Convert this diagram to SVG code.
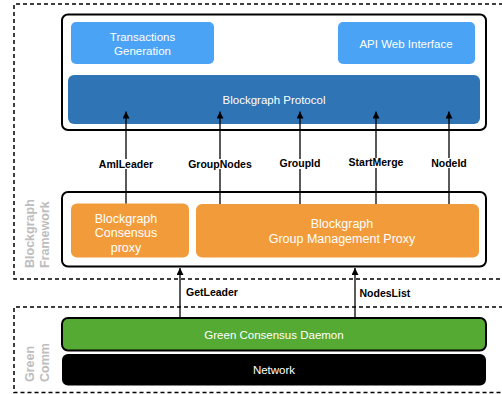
<svg xmlns="http://www.w3.org/2000/svg" width="502" height="394" viewBox="0 0 502 394">
<defs>
<marker id="ah" viewBox="0 0 10 10" refX="10" refY="5" markerWidth="7" markerHeight="7" markerUnits="userSpaceOnUse" orient="auto">
<path d="M0,0 L10,5 L0,10 z" fill="#000"/>
</marker>
<style>
.dash{fill:none;stroke:#000;stroke-width:1.5;stroke-dasharray:4 3}
.frame{fill:#fff;stroke:#000;stroke-width:2}
.lb{fill:#4AA3F5}
.db{fill:#2F74B5}
.or{fill:#F29B3A}
.wt{fill:#fff;font-family:"Liberation Sans",Arial,sans-serif;font-size:11.5px;text-anchor:middle}
.lab{fill:#000;font-family:"Liberation Sans",Arial,sans-serif;font-size:10.5px;font-weight:bold;text-anchor:middle}
.side{fill:#BDBDBD;font-family:"Liberation Sans",Arial,sans-serif;font-size:12.5px;font-weight:bold}
.conn line{stroke:#000;stroke-width:1.3}
</style>
</defs>
<rect width="502" height="394" fill="#fff"/>

<g id="blockgraph-framework">
<path class="dash" d="M503,4 H14 V279 H503"/>
<text class="side" transform="translate(34,268) rotate(-90)">Blockgraph</text>
<text class="side" transform="translate(49,268) rotate(-90)">Framework</text>
</g>
<g id="green-comm">
<path class="dash" d="M503,307 H14 V392.5 H503"/>
<text class="side" transform="translate(34,382) rotate(-90)">Green</text>
<text class="side" transform="translate(49,382) rotate(-90)">Comm</text>
</g>

<g id="top-layer">
<rect class="frame" x="62" y="14.5" width="424" height="115.5" rx="6"/>
</g>
<g id="transactions-generation">
<rect class="lb" x="71" y="22" width="143" height="42" rx="5"/>
<text class="wt" x="142.5" y="41">Transactions</text>
<text class="wt" x="142.5" y="55">Generation</text>
</g>
<g id="api-web-interface">
<rect class="lb" x="338" y="22" width="137" height="42" rx="5"/>
<text class="wt" x="406" y="47.5">API Web Interface</text>
</g>
<g id="blockgraph-protocol">
<rect class="db" x="68" y="75" width="412" height="49" rx="6"/>
<text class="wt" x="274" y="103.5">Blockgraph Protocol</text>
</g>

<g id="middle-layer">
<rect class="frame" x="62" y="192" width="424" height="74.5" rx="6"/>
</g>
<g id="consensus-proxy">
<rect class="or" x="71" y="203.5" width="118" height="54" rx="6"/>
<text class="wt" x="126" y="222.5" style="font-size:12.5px">Blockgraph</text>
<text class="wt" x="126" y="237" style="font-size:12.5px">Consensus</text>
<text class="wt" x="126" y="251.5" style="font-size:12.5px">proxy</text>
</g>
<g id="group-management-proxy">
<rect class="or" x="196" y="204" width="283" height="53.5" rx="6"/>
<text class="wt" x="342" y="227.5" style="font-size:12.5px">Blockgraph</text>
<text class="wt" x="342" y="242.5" style="font-size:12.5px">Group Management Proxy</text>
</g>

<g id="green-consensus-daemon">
<rect x="62" y="318" width="424" height="32.5" rx="6" fill="#55AA33" stroke="#000" stroke-width="2"/>
<text class="wt" x="274" y="339">Green Consensus Daemon</text>
</g>
<g id="network">
<rect x="62" y="354" width="424" height="31.5" rx="6" fill="#000"/>
<text class="wt" x="274" y="374">Network</text>
</g>

<g class="conn" id="connectors">
<line x1="126" y1="203.5" x2="126" y2="169"/>
<line x1="126" y1="159" x2="126" y2="111.5" marker-end="url(#ah)"/>
<line x1="220" y1="204" x2="220" y2="169"/>
<line x1="220" y1="159" x2="220" y2="111.5" marker-end="url(#ah)"/>
<line x1="300" y1="204" x2="300" y2="169"/>
<line x1="300" y1="159" x2="300" y2="111.5" marker-end="url(#ah)"/>
<line x1="376" y1="204" x2="376" y2="168"/>
<line x1="376" y1="158" x2="376" y2="111.5" marker-end="url(#ah)"/>
<line x1="449" y1="204" x2="449" y2="168"/>
<line x1="449" y1="158" x2="449" y2="111.5" marker-end="url(#ah)"/>
<line x1="180" y1="318" x2="180" y2="268" marker-end="url(#ah)"/>
<line x1="355" y1="318" x2="355" y2="268" marker-end="url(#ah)"/>
<text class="lab" x="126" y="167.5">AmILeader</text>
<text class="lab" x="220" y="167.5">GroupNodes</text>
<text class="lab" x="300" y="167">GroupId</text>
<text class="lab" x="376" y="166">StartMerge</text>
<text class="lab" x="449" y="166.5">NodeId</text>
<text class="lab" x="186" y="296" style="text-anchor:start">GetLeader</text>
<text class="lab" x="359.5" y="297" style="text-anchor:start">NodesList</text>
</g>
</svg>
